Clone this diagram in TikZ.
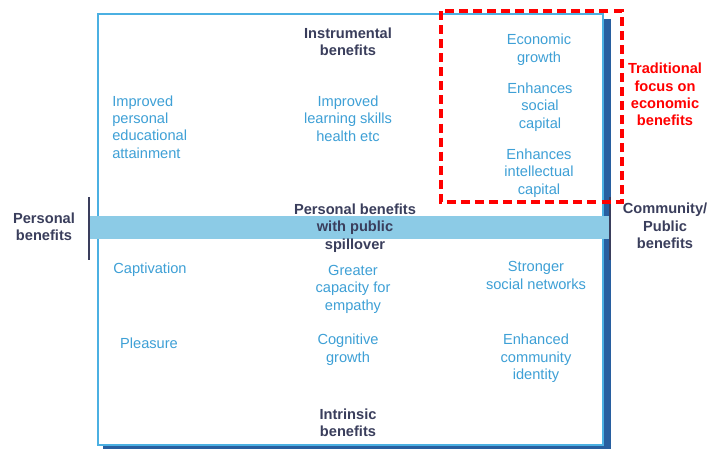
\documentclass[tikz,border=0pt]{standalone}
\usepackage{fontspec}
\setmainfont{Liberation Sans}
\usepackage{xcolor}
\usepackage{tikz}

\definecolor{boxblue}{RGB}{75,176,226}
\definecolor{bandblue}{RGB}{140,203,230}
\definecolor{shadowblue}{RGB}{40,95,160}
\definecolor{itemblue}{RGB}{62,160,214}
\definecolor{navy}{RGB}{58,62,92}

\tikzset{
  item/.style={text=itemblue, align=center, inner sep=0pt, font=\fontsize{10.4}{12.4}\selectfont},
  heading/.style={item, text=navy, font=\fontsize{10.4}{12.4}\selectfont\bfseries},
}

\begin{document}
\begin{tikzpicture}[x=0.025cm, y=-0.025cm]

\useasboundingbox (0,0) rectangle (709,450);

% frame with its drop shadow
\fill[shadowblue] (603,19) rectangle (611,449);
\fill[shadowblue] (103,445) rectangle (611,449);
\draw[boxblue, line width=0.8pt, fill=white] (98,14) rectangle (603,445);

% personal -- public axis
\fill[bandblue] (89,216) rectangle (610,239);
\draw[navy, line width=1.2pt] (89,197) -- (89,260);
\draw[navy, line width=0.8pt] (610,197) -- (610,260);

\node[heading] (instr) at (348,41.5) {Instrumental\\benefits};
\node[heading] (intr) at (348,422.5) {Intrinsic\\benefits};
\node[heading] (pers) at (44,227) {Personal\\benefits};
\node[heading] (comm) at (665,226) {Community/\\Public\\benefits};
\node[heading] (spill) at (355,228) {Personal benefits\\with public\\spillover};

% top half
\node[item, align=left, anchor=west] (attain) at (112,127) {Improved\\personal\\educational\\attainment};
\node[item] (learn) at (348,118.5) {Improved\\learning skills\\health etc};
\node[item] (econ) at (539,49.5) {Economic\\growth};
\node[item] (social) at (540,107) {Enhances\\social\\capital};
\node[item] (intel) at (539,173) {Enhances\\intellectual\\capital};

% bottom half
\node[item] (capt) at (150,270) {Captivation};
\node[item] (pleas) at (149,343) {Pleasure};
\node[item] (empathy) at (353,289) {Greater\\capacity for\\empathy};
\node[item] (cogn) at (348,349.5) {Cognitive\\growth};
\node[item] (netw) at (536,275.5) {Stronger\\social networks};
\node[item] (ident) at (536,358.5) {Enhanced\\community\\identity};

% economic focus
\draw[red, line width=2.2pt, dash pattern=on 6.4pt off 3.6pt] (441,11) rectangle (622,202);
\node[heading, text=red] (trad) at (665,94.5) {Traditional\\focus on\\economic\\benefits};

\end{tikzpicture}
\end{document}
